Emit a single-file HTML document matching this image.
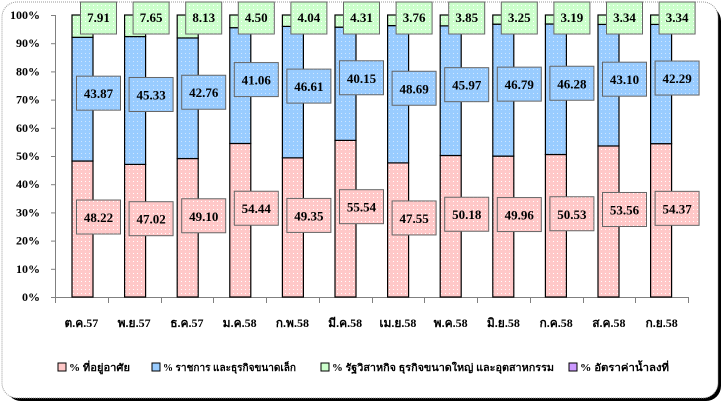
<!DOCTYPE html>
<html><head><meta charset="utf-8"><style>
html,body{margin:0;padding:0;background:#fff;}
svg{display:block;}
text{font-family:"Liberation Serif","DejaVu Serif",serif;font-weight:bold;}
</style></head><body>
<svg width="723" height="404" viewBox="0 0 723 404" xmlns="http://www.w3.org/2000/svg">
<defs>
<pattern id="pp" width="4" height="4" patternUnits="userSpaceOnUse"><rect width="4" height="4" fill="#ffc8c8"/><rect x="1" y="1" width="1" height="1" fill="#fff"/></pattern>
<pattern id="pb" width="4" height="4" patternUnits="userSpaceOnUse"><rect width="4" height="4" fill="#99ccff"/><rect x="1" y="1" width="1" height="1" fill="#cfe6ff"/></pattern>
<pattern id="pg" width="4" height="4" patternUnits="userSpaceOnUse"><rect width="4" height="4" fill="#ccffcc"/><rect x="1" y="1" width="1" height="1" fill="#fff"/></pattern>
</defs>
<rect x="6" y="6" width="715" height="395" rx="15" fill="#000"/>
<rect x="2" y="2" width="716" height="396" rx="15" fill="#fff" stroke="#999" stroke-width="1" stroke-dasharray="1,1"/>
<g id="axis" stroke="#808080" stroke-width="1">
<line x1="55.5" y1="15" x2="55.5" y2="297"/>
<line x1="55" y1="297.5" x2="688" y2="297.5"/>
</g>
</svg>
<script>
const ns="http://www.w3.org/2000/svg";
const svg=document.querySelector('svg');
function el(t,a,txt){const e=document.createElementNS(ns,t);for(const k in a)e.setAttribute(k,a[k]);if(txt!==undefined)e.textContent=txt;svg.appendChild(e);return e;}
const Y=p=>297-p*2.82;
for(let i=0;i<=10;i++){const y=Y(i*10);el('line',{x1:51,x2:55,y1:y+.5,y2:y+.5,stroke:'#808080'});el('text',{x:40,y:y+4,'text-anchor':'end','font-size':'12'},(i*10)+'%');}
for(let k=0;k<=12;k++){const x=Math.round(55+k*52.75)+.5;el('line',{x1:x,x2:x,y1:297,y2:303,stroke:'#808080'});}
const P=[48.22,47.02,49.10,54.44,49.35,55.54,47.55,50.18,49.96,50.53,53.56,54.37];
const B=[43.87,45.33,42.76,41.06,46.61,40.15,48.69,45.97,46.79,46.28,43.10,42.29];
const G=[7.91,7.65,8.13,4.50,4.04,4.31,3.76,3.85,3.25,3.19,3.34,3.34];
const L=['ต.ค.57','พ.ย.57','ธ.ค.57','ม.ค.58','ก.พ.58','มี.ค.58','เม.ย.58','พ.ค.58','มิ.ย.58','ก.ค.58','ส.ค.58','ก.ย.58'];
for(let i=0;i<12;i++){
 const x=72+i*52.6,w=21,cx=x+w/2;
 let acc=0;
 [[P[i],'url(#pp)'],[B[i],'url(#pb)'],[G[i],'url(#pg)']].forEach(([v,f])=>{
  const y1=Y(acc+v),y0=Y(acc);el('rect',{x:x,y:y1,width:w,height:y0-y1,fill:f,stroke:'#000','stroke-width':1.2});acc+=v;});
 const lx=cx+16;
 const py=(Y(0)+Y(P[i]))/2-12, by=(Y(P[i])+Y(P[i]+B[i]))/2-6;
 el('rect',{x:lx-22,y:py-17,width:44,height:34,fill:'url(#pp)',stroke:'#666'});
 el('text',{x:lx,y:py+5,'text-anchor':'middle','font-size':'13'},P[i].toFixed(2));
 el('rect',{x:lx-22,y:by-17,width:44,height:34,fill:'url(#pb)',stroke:'#666'});
 el('text',{x:lx,y:by+5,'text-anchor':'middle','font-size':'13'},B[i].toFixed(2));
 el('rect',{x:lx-18,y:2,width:36,height:32,fill:'url(#pg)',stroke:'#666'});
 el('text',{x:lx,y:22,'text-anchor':'middle','font-size':'13'},G[i].toFixed(2));
 el('text',{x:55+(i+0.5)*52.75,y:327,'text-anchor':'middle','font-size':'12'},L[i]);
}
const LG=[[58,'#ffc8c8','% ที่อยู่อาศัย',61],[152,'#99ccff','% ราชการ และธุรกิจขนาดเล็ก',133],[321,'#ccffcc','% รัฐวิสาหกิจ ธุรกิจขนาดใหญ่ และอุตสาหกรรม',222],[569,'#cc99ff','% อัตราค่าน้ำลงที่',89]];
LG.forEach(([x,c,t,w])=>{el('rect',{x:x,y:363,width:8,height:8,fill:c,stroke:'#000'});el('text',{x:x+11,y:371,'font-size':'10',textLength:w,lengthAdjust:'spacingAndGlyphs'},t);});
</script>
</body></html>
